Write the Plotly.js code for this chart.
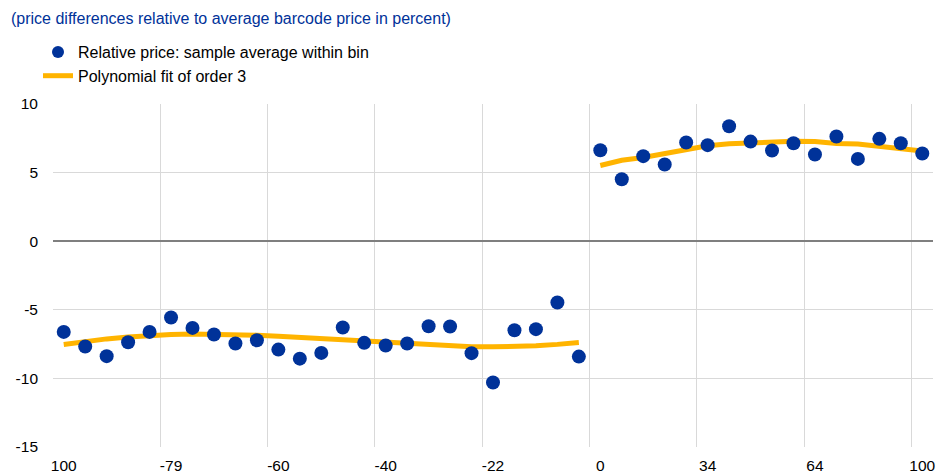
<!DOCTYPE html>
<html>
<head>
<meta charset="utf-8">
<script src="https://cdn.plot.ly/plotly-3.0.1.min.js"></script>
<style>html,body{margin:0;padding:0;background:#fff}#chart{width:944px;height:475px}</style>
</head>
<body>
<div id="chart"></div>
<script>
// Category positions (bins) 0..40
const categories = [0,1,2,3,4,5,6,7,8,9,10,11,12,13,14,15,16,17,18,19,20,21,22,23,24,25,26,27,28,29,30,31,32,33,34,35,36,37,38,39,40];
const tickPositions = [0,5,10,15,20,25,30,35,40];
const tickLabels = ["100","-79","-60","-40","-22","0","34","64","100"];

// Left side (below threshold): bins 0..24
const leftBins = [0,1,2,3,4,5,6,7,8,9,10,11,12,13,14,15,16,17,18,19,20,21,22,23,24];
const leftPoints = [-6.61,-7.68,-8.38,-7.36,-6.61,-5.56,-6.32,-6.80,-7.46,-7.22,-7.90,-8.56,-8.14,-6.29,-7.41,-7.60,-7.46,-6.20,-6.22,-8.16,-10.30,-6.49,-6.41,-4.47,-8.41];
const leftFit = [-7.53,-7.30,-7.12,-6.98,-6.87,-6.80,-6.76,-6.76,-6.79,-6.85,-6.93,-7.02,-7.12,-7.22,-7.32,-7.42,-7.51,-7.59,-7.65,-7.69,-7.70,-7.68,-7.62,-7.52,-7.38];

// Right side (above threshold): bins 25..40
const rightBins = [25,26,27,28,29,30,31,32,33,34,35,36,37,38,39,40];
const rightPoints = [6.63,4.52,6.20,5.59,7.19,7.00,8.38,7.26,6.61,7.14,6.32,7.63,6.00,7.46,7.14,6.39];
const rightFit = [5.52,5.90,6.10,6.40,6.72,6.95,7.10,7.18,7.25,7.28,7.26,7.12,7.08,6.94,6.79,6.57];

const gridPositions = [-0.5,4.5,9.5,14.5,19.5,24.5,29.5,34.5,39.5];

const blue = '#003299';
const yellow = '#FFB400';

const data = [
  {x: leftBins, y: leftFit, type:'scatter', mode:'lines', name:'Polynomial fit of order 3',
   line:{color: yellow, width:5}, legendgroup:'fit', legendrank:2},
  {x: rightBins, y: rightFit, type:'scatter', mode:'lines', name:'Polynomial fit of order 3',
   line:{color: yellow, width:5}, legendgroup:'fit', showlegend:false},
  {x: leftBins.concat([null], rightBins), y: leftPoints.concat([null], rightPoints), type:'scatter', mode:'markers',
   name:'Relative price: sample average within bin', marker:{color: blue, size:14}, cliponaxis:false, legendrank:1},
  {x:[0], y:[null], xaxis:'x2', type:'scatter', mode:'markers', showlegend:false, hoverinfo:'skip'}
];

const layout = {
  width:944, height:475,
  margin:{l:53, r:11, t:104, b:28, autoexpand:false},
  paper_bgcolor:'#fff', plot_bgcolor:'#fff',
  font:{family:'Liberation Sans, Arial, sans-serif', size:16, color:'#000'},
  title:{text:'(price differences relative to average barcode price in percent)',
         font:{size:16, color:blue, family:'Liberation Sans, Arial, sans-serif'},
         xref:'container', yref:'container', x:11/944, xanchor:'left', y:1-18/475, yanchor:'middle'},
  showlegend:true,
  legend:{xref:'container', yref:'container', x:38/944, xanchor:'left', y:1-35/475, yanchor:'top',
          font:{size:16}, bgcolor:'rgba(0,0,0,0)', itemsizing:'constant', tracegroupgap:0},
  xaxis:{range:[-0.5,40.5], tickmode:'array', tickvals:gridPositions, showticklabels:false, automargin:false,
         showgrid:true, gridcolor:'#d9d9d9', gridwidth:1, zeroline:false, showline:false, ticks:'', fixedrange:true},
  xaxis2:{overlaying:'x', matches:'x', side:'bottom', anchor:'y', tickmode:'array', tickvals:tickPositions, ticktext:tickLabels,
          showgrid:false, zeroline:false, showline:false, ticks:'', ticklabelstandoff:7, tickfont:{size:15.5}, automargin:false},
  yaxis:{range:[-15,10], tickmode:'array', tickvals:[-15,-10,-5,0,5,10], ticktext:['-15','-10','-5','0','5','10'],
         showgrid:true, gridcolor:'#d9d9d9', gridwidth:1, zeroline:true, zerolinecolor:'#7f7f7f', zerolinewidth:1.5,
         showline:false, ticks:'', ticklabelstandoff:14, tickfont:{size:15.5}, automargin:false}
};

Plotly.newPlot('chart', data, layout, {displayModeBar:false, staticPlot:true});
</script>
</body>
</html>
